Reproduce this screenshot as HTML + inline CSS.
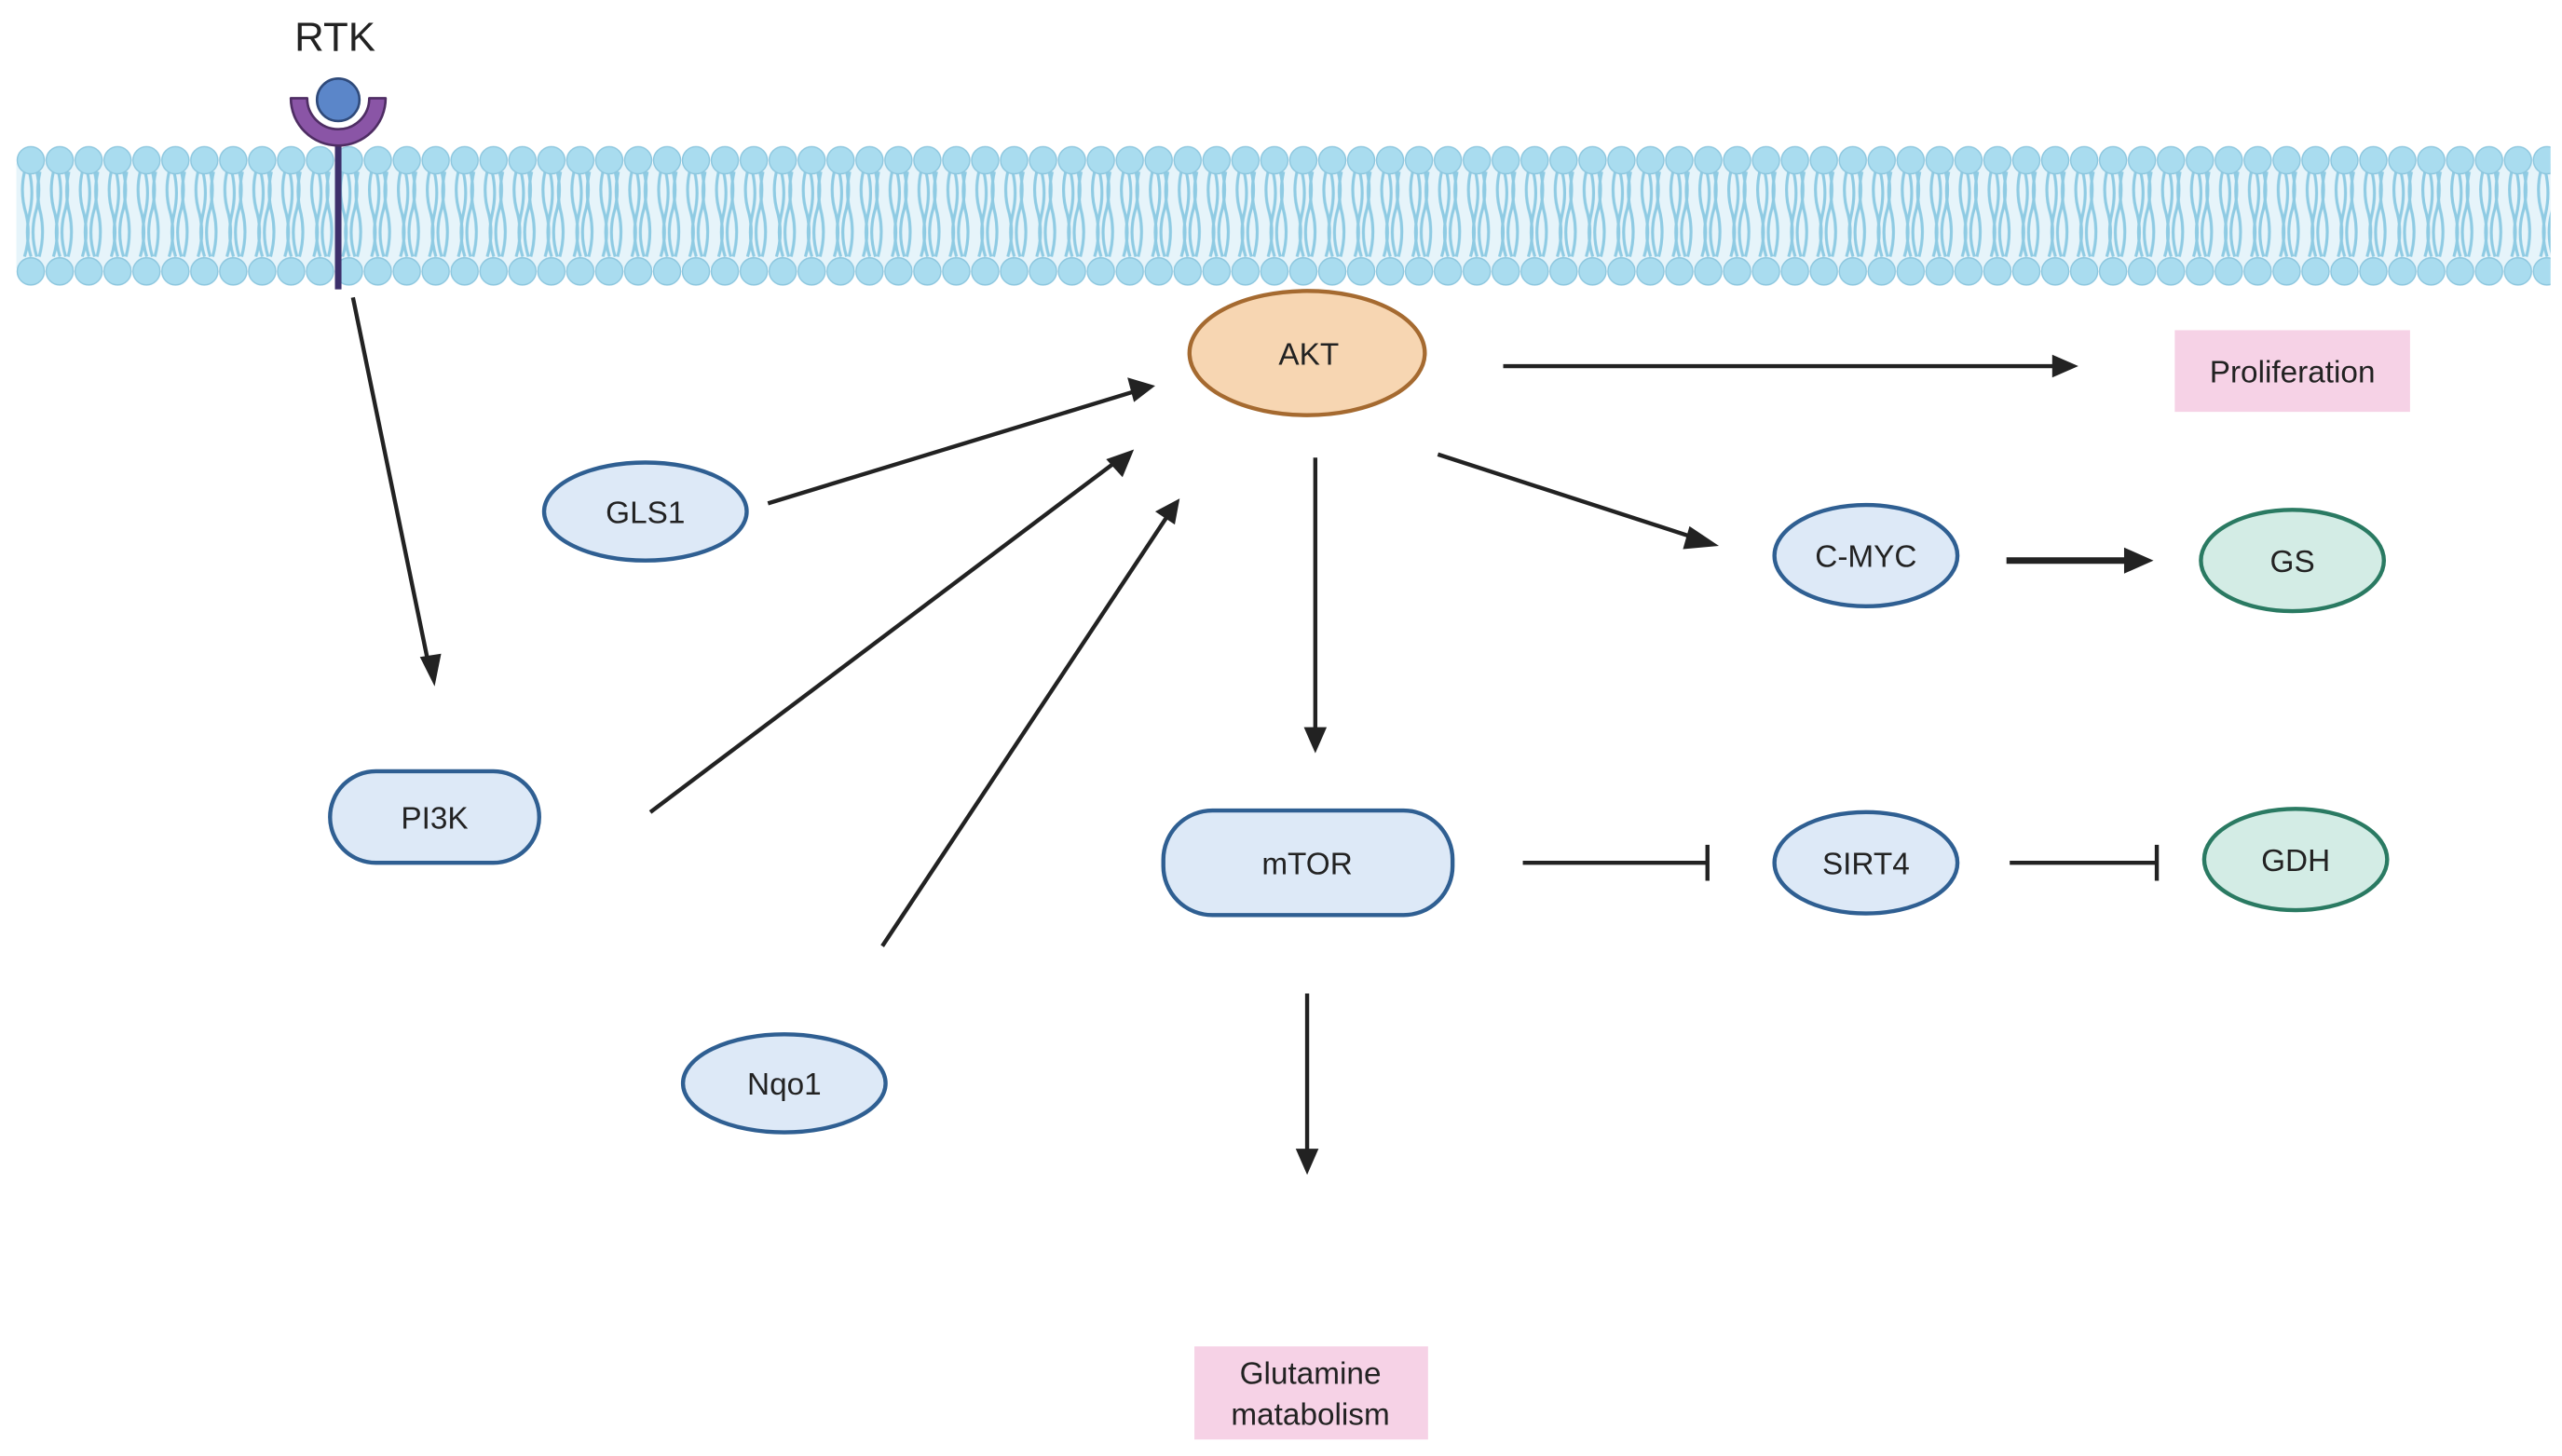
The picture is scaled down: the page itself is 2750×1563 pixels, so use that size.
<!DOCTYPE html>
<html><head><meta charset="utf-8"><style>
html,body{margin:0;padding:0;background:#fff;}
svg{display:block;}
text{font-family:"Liberation Sans",Arial,sans-serif;fill:#222;}
</style></head><body>
<svg width="2750" height="1563" viewBox="0 0 1568 891" xmlns="http://www.w3.org/2000/svg">
<defs>
<pattern id="lip" x="10" y="0" width="17.7" height="891" patternUnits="userSpaceOnUse">
<path d="M5 105 Q2 118 6 131 Q9 144 5 157 M12.5 105 Q15.5 118 11.5 131 Q8.5 144 12.5 157 M8 105 Q11 118 8 131 Q5 144 9 157 M14.5 105 Q11.5 118 15 131 Q17.5 144 14 157" stroke="#8fcbe3" stroke-width="1.8" fill="none"/>
<circle cx="8.85" cy="98" r="8.3" fill="#a9dcef" stroke="#8cc6de" stroke-width="0.8"/>
<circle cx="8.85" cy="166" r="8.3" fill="#a9dcef" stroke="#8cc6de" stroke-width="0.8"/>
</pattern>
</defs>
<rect width="1568" height="891" fill="#fff"/>
<rect x="10" y="100" width="1551" height="64" fill="#e6f4fa"/>
<rect x="10" y="88" width="1551" height="88" fill="url(#lip)"/>
<!-- RTK -->
<text x="205" y="31" font-size="25" text-anchor="middle" fill="#111">RTK</text>
<line x1="207" y1="85" x2="207" y2="177" stroke="#3d2f6b" stroke-width="4"/>
<path d="M178 60 A29 29 0 0 0 236 60 L226 60 A19 19 0 0 1 188 60 Z" fill="#8a55a6" stroke="#4e2d63" stroke-width="1.5" stroke-linejoin="round"/>
<circle cx="207" cy="61" r="13" fill="#5b86c9" stroke="#2f4a7a" stroke-width="1.5"/>
<!-- arrows -->
<g stroke="#222" stroke-width="2.5" fill="none">
<line x1="216" y1="182" x2="263" y2="410"/>
<line x1="470" y1="308" x2="696" y2="239"/>
<line x1="398" y1="497" x2="685" y2="281"/>
<line x1="540" y1="579" x2="715" y2="315"/>
<line x1="805" y1="280" x2="805" y2="450"/>
<line x1="920" y1="224" x2="1260" y2="224"/>
<line x1="880" y1="278" x2="1040" y2="330"/>
<line x1="1228" y1="343" x2="1305" y2="343" stroke-width="4"/>
<line x1="800" y1="608" x2="800" y2="708"/>
<line x1="932" y1="528" x2="1045" y2="528"/>
<line x1="1045" y1="517" x2="1045" y2="539"/>
<line x1="1230" y1="528" x2="1320" y2="528"/>
<line x1="1320" y1="517" x2="1320" y2="539"/>
</g>
<g fill="#222">
<polygon points="266,420 257,402 270,400"/>
<polygon points="707,236 690,231 694,246"/>
<polygon points="694,275 677,281 687,292"/>
<polygon points="722,305 707,313 719,321"/>
<polygon points="805,461 798,445 812,445"/>
<polygon points="1272,224 1256,217 1256,231"/>
<polygon points="1052,334 1034,322 1030,336"/>
<polygon points="1318,343 1300,335 1300,351"/>
<polygon points="800,719 793,703 807,703"/>
</g>
<!-- nodes -->
<g stroke-width="2.5">
<ellipse cx="800" cy="216" rx="72" ry="38" fill="#f7d6b2" stroke="#a56a30"/>
<ellipse cx="395" cy="313" rx="62" ry="30" fill="#dde9f7" stroke="#2f5f92"/>
<rect x="202" y="472" width="128" height="56" rx="28" fill="#dde9f7" stroke="#2f5f92"/>
<ellipse cx="480" cy="663" rx="62" ry="30" fill="#dde9f7" stroke="#2f5f92"/>
<rect x="712" y="496" width="177" height="64" rx="30" fill="#dde9f7" stroke="#2f5f92"/>
<ellipse cx="1142" cy="340" rx="56" ry="31" fill="#dde9f7" stroke="#2f5f92"/>
<ellipse cx="1142" cy="528" rx="56" ry="31" fill="#dde9f7" stroke="#2f5f92"/>
<ellipse cx="1403" cy="343" rx="56" ry="31" fill="#d3ece5" stroke="#2a7a62"/>
<ellipse cx="1405" cy="526" rx="56" ry="31" fill="#d3ece5" stroke="#2a7a62"/>
</g>
<rect x="1331" y="202" width="144" height="50" fill="#f6d2e6"/>
<rect x="731" y="824" width="143" height="57" fill="#f6d2e6"/>
<g font-size="19" text-anchor="middle">
<text x="801" y="223">AKT</text>
<text x="395" y="320">GLS1</text>
<text x="266" y="507">PI3K</text>
<text x="480" y="670">Nqo1</text>
<text x="800" y="535">mTOR</text>
<text x="1142" y="347">C-MYC</text>
<text x="1142" y="535">SIRT4</text>
<text x="1403" y="350">GS</text>
<text x="1405" y="533">GDH</text>
<text x="1403" y="234">Proliferation</text>
<text x="802" y="847">Glutamine</text>
<text x="802" y="872">matabolism</text>
</g>
</svg>
</body></html>
